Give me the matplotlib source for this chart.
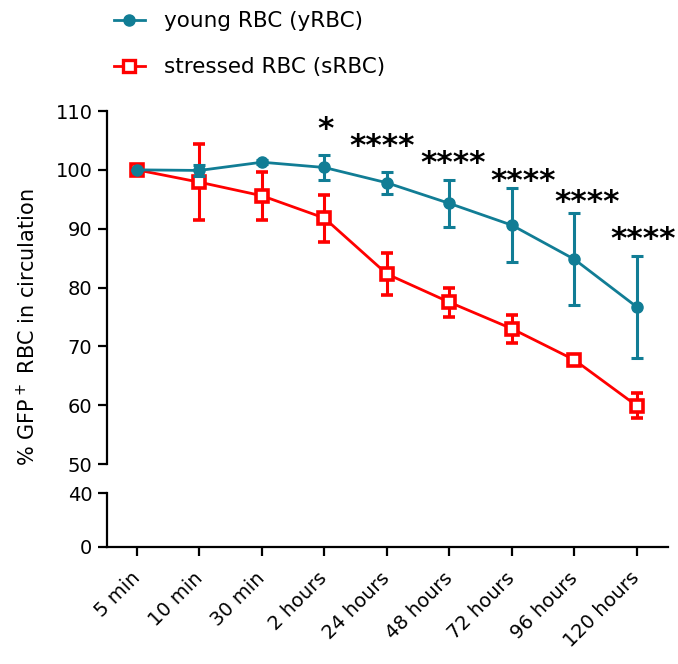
import matplotlib
matplotlib.use('Agg')
import matplotlib.pyplot as plt
from matplotlib.lines import Line2D
import numpy as np

# --- data ---
timepoints = ['5 min', '10 min', '30 min', '2 hours', '24 hours', '48 hours',
              '72 hours', '96 hours', '120 hours']
young_mean = [100.0, 99.9, 101.3, 100.4, 97.8, 94.3, 90.6, 84.8, 76.7]
young_err = [0.0, 1.0, 0.3, 2.1, 1.9, 4.0, 6.3, 7.8, 8.6]
stressed_mean = [100.0, 97.9, 95.6, 91.8, 82.3, 77.5, 73.0, 67.7, 59.9]
stressed_err = [0.3, 6.5, 4.1, 4.0, 3.5, 2.5, 2.4, 0.7, 2.1]
signif = ['', '', '', '*', '****', '****', '****', '****', '****']
signif_y = [0, 0, 0, 106.8, 104.0, 101.0, 98.0, 94.4, 88.1]
# horizontal nudge of each significance label (in category units)
signif_dx = [0, 0, 0, 0.02, -0.07, 0.06, 0.18, 0.2, 0.1]

TEAL = '#117d95'
RED = '#ff0000'

plt.rcParams['font.family'] = 'DejaVu Sans'

fig = plt.figure(figsize=(6.78, 6.64), dpi=100, facecolor='white')
ax_top = fig.add_axes([0.1578, 0.3012, 0.8275, 0.5316])
ax_bot = fig.add_axes([0.1578, 0.1767, 0.8275, 0.0808], sharex=ax_top)

x = np.arange(len(timepoints))

ax_top.errorbar(x, stressed_mean, yerr=stressed_err, color=RED, lw=2.0,
                marker='s', ms=9, mfc='white', mec=RED, mew=2.6,
                capsize=4.5, capthick=2.2, elinewidth=2.2, zorder=3, clip_on=False)
ax_top.errorbar(x, young_mean, yerr=young_err, color=TEAL, lw=2.0,
                marker='o', ms=8, mfc=TEAL, mec=TEAL,
                capsize=4.5, capthick=2.2, elinewidth=2.2, zorder=4, clip_on=False)

for xi, s, sy, dx in zip(x, signif, signif_y, signif_dx):
    if s:
        ax_top.text(xi + dx, sy, s, fontsize=22.5, fontweight='bold',
                    ha='center', va='center', color='black')

ax_top.set_ylim(50, 110)
ax_top.set_xlim(-0.48, 8.5)
ax_top.set_yticks([50, 60, 70, 80, 90, 100, 110])
ax_top.set_yticks([50], minor=True)
ax_top.tick_params(axis='y', which='major', length=6.5, width=1.6, labelsize=14, pad=4)
ax_top.tick_params(axis='y', which='minor', direction='in', length=6.5, width=1.6)
ax_top.tick_params(axis='x', which='both', bottom=False, labelbottom=False)
for side in ['top', 'right', 'bottom']:
    ax_top.spines[side].set_visible(False)
ax_top.spines['left'].set_linewidth(1.6)
ax_top.patch.set_alpha(0)

ax_bot.set_ylim(0, 40)
ax_bot.set_yticks([0, 40])
ax_bot.set_yticks([40], minor=True)
ax_bot.tick_params(axis='y', which='major', length=6.5, width=1.6, labelsize=14, pad=4)
ax_bot.tick_params(axis='y', which='minor', direction='in', length=6.5, width=1.6)
ax_bot.set_xticks(x)
ax_bot.set_xticklabels(timepoints, rotation=45, ha='right', va='center',
                       rotation_mode='anchor')
ax_bot.tick_params(axis='x', length=6.5, width=1.6, labelsize=14, pad=14)
for side in ['top', 'right']:
    ax_bot.spines[side].set_visible(False)
ax_bot.spines['left'].set_linewidth(1.6)
ax_bot.spines['bottom'].set_linewidth(1.6)

fig.text(0.04, 0.507, '% GFP$^+$ RBC in circulation', rotation=90,
         fontsize=15, ha='center', va='center')

handles = [
    Line2D([], [], color=TEAL, lw=2.0, marker='o', ms=8, mfc=TEAL),
    Line2D([], [], color=RED, lw=2.0, marker='s', ms=8, mfc='white', mec=RED, mew=2.4),
]
fig.legend(handles, ['young RBC (yRBC)', 'stressed RBC (sRBC)'],
           loc='upper left', bbox_to_anchor=(0.139, 1.012), frameon=False,
           fontsize=15.5, handlelength=1.45, handletextpad=0.9, labelspacing=1.2)

plt.savefig('out.png', dpi=100, facecolor='white')
